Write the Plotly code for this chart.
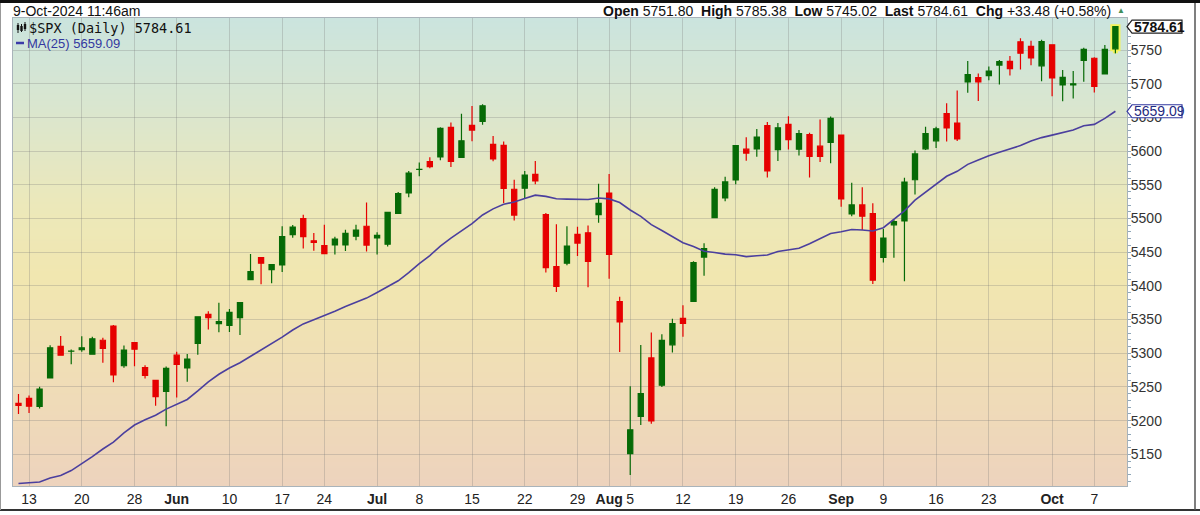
import zlib, struct, base64
import plotly.graph_objects as go

# ---------------- data ----------------
dates = [
    "2024-05-10", "2024-05-13", "2024-05-14", "2024-05-15", "2024-05-16", "2024-05-17",
    "2024-05-20", "2024-05-21", "2024-05-22", "2024-05-23", "2024-05-24",
    "2024-05-28", "2024-05-29", "2024-05-30", "2024-05-31",
    "2024-06-03", "2024-06-04", "2024-06-05", "2024-06-06", "2024-06-07",
    "2024-06-10", "2024-06-11", "2024-06-12", "2024-06-13", "2024-06-14",
    "2024-06-17", "2024-06-18", "2024-06-20", "2024-06-21",
    "2024-06-24", "2024-06-25", "2024-06-26", "2024-06-27", "2024-06-28",
    "2024-07-01", "2024-07-02", "2024-07-03", "2024-07-05",
    "2024-07-08", "2024-07-09", "2024-07-10", "2024-07-11", "2024-07-12",
    "2024-07-15", "2024-07-16", "2024-07-17", "2024-07-18", "2024-07-19",
    "2024-07-22", "2024-07-23", "2024-07-24", "2024-07-25", "2024-07-26",
    "2024-07-29", "2024-07-30", "2024-07-31", "2024-08-01", "2024-08-02",
    "2024-08-05", "2024-08-06", "2024-08-07", "2024-08-08", "2024-08-09",
    "2024-08-12", "2024-08-13", "2024-08-14", "2024-08-15", "2024-08-16",
    "2024-08-19", "2024-08-20", "2024-08-21", "2024-08-22", "2024-08-23",
    "2024-08-26", "2024-08-27", "2024-08-28", "2024-08-29", "2024-08-30",
    "2024-09-03", "2024-09-04", "2024-09-05", "2024-09-06",
    "2024-09-09", "2024-09-10", "2024-09-11", "2024-09-12", "2024-09-13",
    "2024-09-16", "2024-09-17", "2024-09-18", "2024-09-19", "2024-09-20",
    "2024-09-23", "2024-09-24", "2024-09-25", "2024-09-26", "2024-09-27",
    "2024-09-30", "2024-10-01", "2024-10-02", "2024-10-03", "2024-10-04",
    "2024-10-07", "2024-10-08", "2024-10-09",
]

opens = [
    5225.49, 5233.08, 5221.10, 5263.26, 5310.07, 5303.10,
    5305.35, 5298.69, 5319.28, 5340.26, 5281.45,
    5315.91, 5278.73, 5259.77, 5243.21,
    5297.15, 5278.24, 5314.48, 5357.80, 5343.81,
    5341.22, 5353.00, 5409.13, 5441.93, 5424.08,
    5431.11, 5476.15, 5499.99, 5466.77,
    5459.58, 5460.73, 5460.71, 5473.59, 5488.48,
    5471.08, 5461.84, 5507.44, 5537.91,
    5572.75, 5584.24, 5591.26, 5635.21, 5590.76,
    5638.16, 5644.09, 5610.07, 5608.56, 5543.37,
    5544.89, 5565.30, 5505.84, 5428.70, 5433.67,
    5476.55, 5478.73, 5505.59, 5537.84, 5376.63,
    5151.14, 5206.42, 5293.13, 5252.57, 5312.57,
    5351.88, 5376.98, 5442.77, 5501.13, 5530.50,
    5557.23, 5602.88, 5603.09, 5637.77, 5602.09,
    5639.66, 5602.89, 5624.51, 5607.30, 5612.74,
    5623.89, 5506.68, 5520.08, 5507.33,
    5442.07, 5490.51, 5496.42, 5557.48, 5603.34,
    5615.21, 5655.51, 5641.68, 5702.63, 5709.20,
    5711.90, 5727.64, 5733.15, 5762.22, 5755.36,
    5726.52, 5757.73, 5698.19, 5698.20, 5734.70,
    5737.80, 5714.56, 5751.80,
]

highs = [
    5239.66, 5237.26, 5250.37, 5311.76, 5325.49, 5305.45,
    5325.32, 5324.32, 5323.18, 5341.88, 5311.65,
    5315.91, 5282.26, 5260.21, 5280.33,
    5302.11, 5298.80, 5354.16, 5362.35, 5375.08,
    5365.79, 5375.95, 5447.25, 5441.93, 5432.39,
    5488.50, 5490.38, 5505.53, 5478.31,
    5490.66, 5472.88, 5483.14, 5490.81, 5523.64,
    5479.55, 5509.69, 5539.27, 5570.33,
    5583.11, 5590.75, 5635.39, 5642.45, 5655.56,
    5666.94, 5669.67, 5622.49, 5614.05, 5557.50,
    5570.36, 5585.34, 5508.04, 5491.59, 5488.32,
    5487.74, 5489.46, 5551.51, 5566.16, 5383.89,
    5250.89, 5312.34, 5330.64, 5328.03, 5351.11,
    5371.20, 5436.50, 5463.22, 5546.23, 5561.98,
    5608.30, 5620.51, 5632.68, 5643.22, 5641.82,
    5651.62, 5631.18, 5627.03, 5646.95, 5651.37,
    5623.89, 5552.99, 5546.30, 5522.47,
    5484.20, 5497.91, 5560.41, 5600.71, 5636.27,
    5636.05, 5670.81, 5689.75, 5733.57, 5715.14,
    5725.36, 5735.32, 5741.03, 5767.37, 5763.78,
    5765.14, 5757.73, 5720.28, 5718.78, 5753.23,
    5739.34, 5757.60, 5785.38,
]

lows = [
    5209.68, 5211.16, 5217.98, 5263.26, 5296.19, 5283.59,
    5302.40, 5297.87, 5286.01, 5256.93, 5278.39,
    5280.89, 5262.70, 5222.10, 5191.68,
    5234.32, 5257.63, 5297.64, 5335.36, 5331.33,
    5331.52, 5327.25, 5409.13, 5402.51, 5403.75,
    5420.40, 5471.32, 5455.56, 5452.03,
    5447.59, 5446.56, 5451.87, 5467.54, 5451.12,
    5446.53, 5458.43, 5507.42, 5531.63,
    5562.51, 5574.57, 5586.44, 5576.53, 5590.44,
    5614.75, 5639.02, 5584.81, 5522.81, 5497.04,
    5530.00, 5550.90, 5419.98, 5390.95, 5430.70,
    5444.44, 5398.07, 5493.75, 5410.42, 5302.03,
    5119.26, 5193.56, 5195.54, 5249.74, 5300.93,
    5324.37, 5376.98, 5415.14, 5501.13, 5525.59,
    5550.74, 5585.50, 5591.57, 5560.95, 5585.16,
    5602.34, 5593.48, 5560.95, 5583.71, 5581.79,
    5517.40, 5503.41, 5483.00, 5402.62,
    5434.49, 5441.72, 5406.96, 5535.50, 5601.65,
    5604.53, 5614.05, 5615.08, 5686.42, 5674.49,
    5704.94, 5698.99, 5712.06, 5721.01, 5727.34,
    5703.53, 5681.28, 5674.00, 5677.89, 5702.83,
    5686.85, 5714.56, 5745.02,
]

closes = [
    5222.68, 5221.42, 5246.68, 5308.15, 5297.10, 5303.27,
    5308.13, 5321.41, 5307.01, 5267.84, 5304.72,
    5306.04, 5266.95, 5235.48, 5277.51,
    5283.40, 5291.34, 5354.03, 5352.96, 5346.99,
    5360.79, 5375.32, 5421.03, 5433.74, 5431.60,
    5473.23, 5487.03, 5473.17, 5464.62,
    5447.87, 5469.30, 5477.90, 5482.87, 5460.48,
    5475.09, 5509.01, 5537.02, 5567.19,
    5572.85, 5576.98, 5633.91, 5584.54, 5615.35,
    5631.22, 5667.20, 5588.27, 5544.59, 5505.00,
    5564.41, 5555.74, 5427.13, 5399.22, 5459.10,
    5463.54, 5436.44, 5522.30, 5446.68, 5346.56,
    5186.33, 5240.03, 5199.50, 5319.31, 5344.16,
    5344.39, 5434.43, 5455.21, 5543.22, 5554.25,
    5608.25, 5597.12, 5620.85, 5570.64, 5634.61,
    5616.84, 5625.80, 5592.18, 5591.96, 5648.40,
    5528.93, 5520.07, 5503.41, 5408.42,
    5471.05, 5495.52, 5554.13, 5595.76, 5626.02,
    5633.09, 5634.58, 5618.26, 5713.64, 5702.55,
    5718.57, 5732.93, 5722.26, 5745.37, 5738.17,
    5762.48, 5708.75, 5709.54, 5699.94, 5751.07,
    5695.94, 5751.13, 5784.61,
]

ma25 = [
    5106.62, 5107.38, 5108.85, 5114.75, 5118.67, 5125.87,
    5135.72, 5146.52, 5157.91, 5168.18, 5181.68,
    5193.50, 5201.35, 5207.91, 5217.07,
    5224.41, 5231.42, 5244.15, 5257.53, 5268.84,
    5278.16, 5285.95, 5295.28, 5305.12, 5313.82,
    5323.85, 5334.47, 5343.53, 5349.79,
    5355.82, 5362.46, 5369.25, 5375.71, 5381.85,
    5390.14, 5398.31, 5407.55, 5419.56,
    5433.05, 5445.03, 5459.05, 5470.78, 5481.23,
    5492.36, 5505.17, 5514.27, 5521.04, 5524.40,
    5529.63, 5534.59, 5532.75, 5529.24, 5528.67,
    5528.63, 5528.17, 5530.29, 5529.05, 5523.59,
    5512.63, 5503.22, 5490.84, 5482.14, 5473.21,
    5464.08, 5458.37, 5451.23, 5449.57, 5447.13,
    5446.21, 5443.41, 5444.71, 5445.75, 5450.94,
    5453.03, 5455.84, 5462.44, 5470.15, 5477.72,
    5480.34, 5483.68, 5482.93, 5481.39,
    5486.37, 5498.74, 5511.31, 5527.16, 5539.42,
    5550.98, 5562.59, 5569.94, 5580.28, 5586.65,
    5593.23, 5598.21, 5603.22, 5608.20, 5614.90,
    5620.02, 5623.69, 5627.04, 5631.35, 5637.72,
    5639.62, 5648.51, 5659.09,
]

x_tick_dates = [
    "2024-05-13", "2024-05-20", "2024-05-28", "2024-06-03", "2024-06-10", "2024-06-17",
    "2024-06-24", "2024-07-01", "2024-07-08", "2024-07-15", "2024-07-22", "2024-07-29",
    "2024-08-01", "2024-08-05", "2024-08-12", "2024-08-19", "2024-08-26", "2024-09-03",
    "2024-09-09", "2024-09-16", "2024-09-23", "2024-10-01", "2024-10-07",
]
x_tick_labels = [
    "13", "20", "28", "<b>Jun</b>", "10", "17",
    "24", "<b>Jul</b>", "8", "15", "22", "29",
    "<b>Aug</b>", "5", "12", "19", "26", "<b>Sep</b>",
    "9", "16", "23", "<b>Oct</b>", "7",
]
y_tick_values = [5150, 5200, 5250, 5300, 5350, 5400, 5450, 5500,
                 5550, 5600, 5650, 5700, 5750]

symbol = "$SPX"
timestamp = "9-Oct-2024 11:46am"

# ---------------- helpers for styling ----------------
W, H = 1200, 515
PL, PR, PT, PB = 13, 1127, 18, 486


def px(xp):
    return (xp - PL) / (PR - PL)


def py(yp):
    return (PB - yp) / (PB - PT)


def gradient_png(stops, n=240):
    rows = []
    for k in range(n):
        t = k / (n - 1)
        col = stops[-1][1]
        for j in range(len(stops) - 1):
            t0, c0 = stops[j]
            t1, c1 = stops[j + 1]
            if t0 <= t <= t1:
                f = (t - t0) / (t1 - t0)
                col = [round(c0[i] + (c1[i] - c0[i]) * f) for i in range(3)]
                break
        rows.append(b"\x00" + bytes(col) * 2)
    raw = b"".join(rows)

    def chunk(tag, data):
        return (struct.pack(">I", len(data)) + tag + data
                + struct.pack(">I", zlib.crc32(tag + data) & 0xFFFFFFFF))

    ihdr = struct.pack(">IIBBBBB", 2, n, 8, 2, 0, 0, 0)
    png = (b"\x89PNG\r\n\x1a\n" + chunk(b"IHDR", ihdr)
           + chunk(b"IDAT", zlib.compress(raw)) + chunk(b"IEND", b""))
    return "data:image/png;base64," + base64.b64encode(png).decode()


bg_src = gradient_png([
    (0.00, (203, 228, 222)),
    (0.18, (217, 230, 208)),
    (0.40, (236, 232, 186)),
    (0.55, (241, 231, 176)),
    (0.75, (240, 222, 182)),
    (1.00, (237, 211, 189)),
])

GREEN = "#066a06"
RED = "#e60000"

fig = go.Figure()

# main candles
fig.add_trace(go.Candlestick(
    x=dates, open=opens, high=highs, low=lows, close=closes,
    increasing=dict(line=dict(color=GREEN, width=1.2), fillcolor=GREEN),
    decreasing=dict(line=dict(color=RED, width=1.2), fillcolor=RED),
    whiskerwidth=0, showlegend=False, name=symbol,
))

# yellow highlight of the latest bar (drawn, then the bar redrawn on top)
fig.add_trace(go.Candlestick(
    x=dates[-1:], open=opens[-1:], high=highs[-1:], low=lows[-1:], close=closes[-1:],
    increasing=dict(line=dict(color="#f4f25a", width=5), fillcolor="#f4f25a"),
    decreasing=dict(line=dict(color="#f4f25a", width=5), fillcolor="#f4f25a"),
    whiskerwidth=0, showlegend=False, hoverinfo="skip",
))
fig.add_trace(go.Candlestick(
    x=dates[-1:], open=opens[-1:], high=highs[-1:], low=lows[-1:], close=closes[-1:],
    increasing=dict(line=dict(color=GREEN, width=1.2), fillcolor=GREEN),
    decreasing=dict(line=dict(color=RED, width=1.2), fillcolor=RED),
    whiskerwidth=0, showlegend=False, hoverinfo="skip",
))

fig.add_trace(go.Scatter(
    x=dates, y=ma25, mode="lines",
    line=dict(color="#4b3f9e", width=1.6),
    showlegend=False, name="MA(25)",
))

grid = "rgba(120,120,120,0.28)"
axis_line = "#a9b3ba"

fig.update_layout(
    width=W, height=H,
    margin=dict(l=PL, r=W - PR, t=PT, b=H - PB, autoexpand=False),
    paper_bgcolor="white",
    plot_bgcolor="rgba(0,0,0,0)",
    font=dict(family="Liberation Sans, Arial, sans-serif", size=13, color="#222"),
    boxgap=0.3,
    boxmode="overlay",
    xaxis=dict(
        type="category", categoryorder="array", categoryarray=dates,
        range=[-0.52, 105.1],
        tickmode="array", tickvals=x_tick_dates, ticktext=x_tick_labels,
        showgrid=True, gridcolor=grid, gridwidth=1,
        ticks="", tickfont=dict(size=14, color="#222"),
        showline=True, linecolor=axis_line, mirror=True,
        rangeslider=dict(visible=False), fixedrange=True,
    ),
    yaxis=dict(
        side="right", range=[5103, 5797.5],
        tickmode="array", tickvals=y_tick_values,
        showgrid=True, gridcolor=grid, gridwidth=1,
        ticks="", tickfont=dict(size=14, color="#333"),
        showline=True, linecolor=axis_line, mirror=True,
        minor=dict(ticks="outside", ticklen=3, dtick=10, tickcolor="#8fa7b8", showgrid=False),
        zeroline=False, fixedrange=True,
    ),
    images=[dict(
        source=bg_src, xref="paper", yref="paper", x=0, y=1,
        sizex=1, sizey=1, sizing="stretch", xanchor="left", yanchor="top",
        layer="below",
    )],
)

shapes = []
# outer frame
shapes.append(dict(type="rect", xref="paper", yref="paper", x0=px(0), x1=px(W), y0=py(0), y1=py(3),
                   fillcolor="#111", line=dict(width=0), layer="above"))
shapes.append(dict(type="line", xref="paper", yref="paper", x0=px(0), x1=px(W), y0=py(510), y1=py(510),
                   line=dict(color="#333", width=2), layer="above"))
shapes.append(dict(type="line", xref="paper", yref="paper", x0=px(1195), x1=px(1195), y0=py(3), y1=py(510),
                   line=dict(color="#555", width=1.5), layer="above"))
shapes.append(dict(type="line", xref="paper", yref="paper", x0=px(0.5), x1=px(0.5), y0=py(3), y1=py(510),
                   line=dict(color="#999", width=1), layer="above"))

# legend icons
shapes.append(dict(type="line", xref="paper", yref="paper", x0=px(16), x1=px(24), y0=py(43), y1=py(43),
                   line=dict(color="#3b3ba8", width=2.5), layer="above"))
for cx, top, bot, btop, bbot in [(18, 23, 33, 25, 30), (21.5, 24, 32, 26, 31), (25, 22, 31, 24, 29)]:
    shapes.append(dict(type="line", xref="paper", yref="paper", x0=px(cx), x1=px(cx), y0=py(top), y1=py(bot),
                       line=dict(color="#111", width=1), layer="above"))
    shapes.append(dict(type="rect", xref="paper", yref="paper", x0=px(cx - 1.2), x1=px(cx + 1.2),
                       y0=py(btop), y1=py(bbot), fillcolor="#111", line=dict(width=0), layer="above"))

# price flags on the right axis
for val, col in [(closes[-1], "#222"), (ma25[-1], "#3338a0")]:
    shapes.append(dict(
        type="path", xref="paper", yref="y", xsizemode="pixel", ysizemode="pixel",
        xanchor=1, yanchor=val,
        path="M 0 0 L 5 6.5 L 55 6.5 L 55 -6.5 L 5 -6.5 Z",
        fillcolor="white", line=dict(color=col, width=1.2), layer="above",
    ))

fig.update_layout(shapes=shapes)

chg = closes[-1] - closes[-2]
pct = chg / closes[-2] * 100
nb = "\u00a0"
header = (f"<b>Open</b> {opens[-1]:.2f}{nb}{nb}<b>High</b> {highs[-1]:.2f}{nb}{nb}"
          f"<b>Low</b> {lows[-1]:.2f}{nb}{nb}<b>Last</b> {closes[-1]:.2f}{nb}{nb}"
          f"<b>Chg</b> {chg:+.2f} ({pct:+.2f}%)")

annotations = [
    dict(text=timestamp, xref="paper", yref="paper", x=px(11), y=py(11),
         xanchor="left", yanchor="middle", showarrow=False,
         font=dict(size=14, color="#111")),
    dict(text=header, xref="paper", yref="paper", x=px(1113), y=py(11),
         xanchor="right", yanchor="middle", showarrow=False,
         font=dict(size=14, color="#111")),
    dict(text="▲", xref="paper", yref="paper", x=px(1121), y=py(10),
         xanchor="center", yanchor="middle", showarrow=False,
         font=dict(size=8, color="#3f8f5a")),
    dict(text=f"{symbol} (Daily) {closes[-1]:.2f}", xref="paper", yref="paper", x=px(27), y=py(28),
         xanchor="left", yanchor="middle", showarrow=False,
         font=dict(family="DejaVu Sans Mono, monospace", size=13.5, color="#111")),
    dict(text=f"MA(25) {ma25[-1]:.2f}", xref="paper", yref="paper", x=px(25), y=py(43),
         xanchor="left", yanchor="middle", showarrow=False,
         font=dict(size=13, color="#3338a0")),
    dict(text=f"<b>{closes[-1]:.2f}</b>", xref="paper", yref="y", x=1, y=closes[-1],
         xanchor="left", yanchor="middle", xshift=5, showarrow=False,
         font=dict(size=14, color="#111")),
    dict(text=f"{ma25[-1]:.2f}", xref="paper", yref="y", x=1, y=ma25[-1],
         xanchor="left", yanchor="middle", xshift=5, showarrow=False,
         font=dict(size=14, color="#1f2a80")),
]
fig.update_layout(annotations=annotations)

fig.write_html("out.html", config={"displayModeBar": False},
               post_script="document.body.style.margin='0';")
